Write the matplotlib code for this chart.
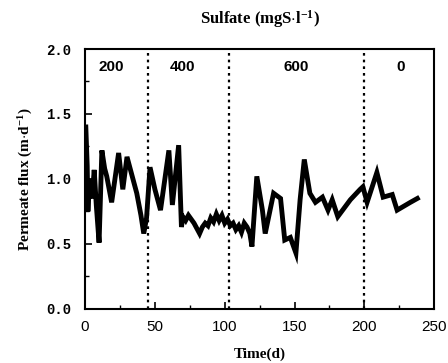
import numpy as np
import matplotlib.pyplot as plt
from matplotlib.ticker import MultipleLocator

plt.rcParams['mathtext.fontset'] = 'custom'
plt.rcParams['mathtext.rm'] = 'Liberation Serif:bold'
plt.rcParams['mathtext.it'] = 'Liberation Serif:bold'
plt.rcParams['mathtext.bf'] = 'Liberation Serif:bold'

# ----- data -----
days = [0.5, 1.5, 2, 3, 4, 5, 6.5, 8, 10, 12, 14, 15.5, 19, 24, 27, 30, 33, 37, 40, 42,
        44, 46.5, 50, 54, 60, 62.5, 67, 69, 70, 72, 74, 76, 78, 80, 82, 84, 86, 88,
        90, 92, 94, 96, 98, 100, 102, 104, 106, 108, 110, 112, 114, 116, 118, 119.5,
        123, 127, 129, 135, 140, 143, 147, 151, 154, 157, 161, 165, 170, 174, 177,
        181, 190, 197, 199, 202, 209, 213.5, 220, 223.5, 233, 238]
flux = [1.40, 1.10, 0.75, 1.00, 0.90, 0.85, 1.07, 0.80, 0.51, 1.22, 1.08, 1.02, 0.82,
        1.20, 0.92, 1.17, 1.05, 0.89, 0.72, 0.58, 0.70, 1.09, 0.92, 0.76, 1.22, 0.80,
        1.26, 0.63, 0.71, 0.68, 0.72, 0.69, 0.66, 0.62, 0.58, 0.63, 0.66, 0.64, 0.70,
        0.67, 0.73, 0.68, 0.72, 0.66, 0.69, 0.64, 0.66, 0.61, 0.64, 0.59, 0.66, 0.63,
        0.58, 0.48, 1.02, 0.76, 0.58, 0.89, 0.85, 0.53, 0.55, 0.43, 0.84, 1.15, 0.89,
        0.82, 0.86, 0.76, 0.84, 0.71, 0.84, 0.92, 0.94, 0.82, 1.05, 0.86, 0.88, 0.76,
        0.82, 0.85]
phase_bounds = [45, 103, 200]
phase_labels = ['200', '400', '600', '0']
phase_label_x = [19, 70, 151, 226]

fig = plt.figure(figsize=(4.48, 3.63), dpi=100)
ax = fig.add_axes([0.19, 0.149, 0.779, 0.716])

ax.plot(days, flux, color='black', lw=3.5, solid_joinstyle='miter')
for b in phase_bounds:
    ax.axvline(b, color='black', ls=(0, (1.2, 1.8)), lw=1.6)
for lab, xp in zip(phase_labels, phase_label_x):
    ax.text(xp, 1.86, lab, ha='center', va='center', fontsize=11,
            fontweight='bold', family='Liberation Sans')

ax.set_xlim(0, 250)
ax.set_ylim(0, 2.0)
ax.xaxis.set_major_locator(MultipleLocator(50))
ax.xaxis.set_minor_locator(MultipleLocator(25))
ax.yaxis.set_major_locator(MultipleLocator(0.5))
ax.yaxis.set_minor_locator(MultipleLocator(0.25))
ax.tick_params(direction='in', which='major', length=5, width=1.2)
ax.tick_params(direction='in', which='minor', length=3, width=1.0)
ax.tick_params(axis='x', pad=8)
ax.tick_params(axis='y', pad=10)
for s in ax.spines.values():
    s.set_linewidth(1.5)

for t in ax.get_xticklabels():
    t.set_family('Liberation Sans')
    t.set_fontsize(11)
ax.set_yticklabels([f'{v:.1f}' for v in ax.get_yticks()], family='Liberation Mono',
                   fontsize=10, fontweight='bold')

ax.set_xlabel('Time(d)', family='Liberation Serif', fontweight='bold', fontsize=11, labelpad=10)
ax.set_ylabel(r'Permeate flux (m$\cdot$d$^{-1}$)', family='Liberation Serif',
              fontweight='bold', fontsize=11, labelpad=8)
ax.set_title(r'Sulfate (mgS$\cdot$l$^{-1}$)', family='Liberation Serif',
             fontweight='bold', fontsize=12, pad=18)

fig.savefig('out.png', dpi=100)
